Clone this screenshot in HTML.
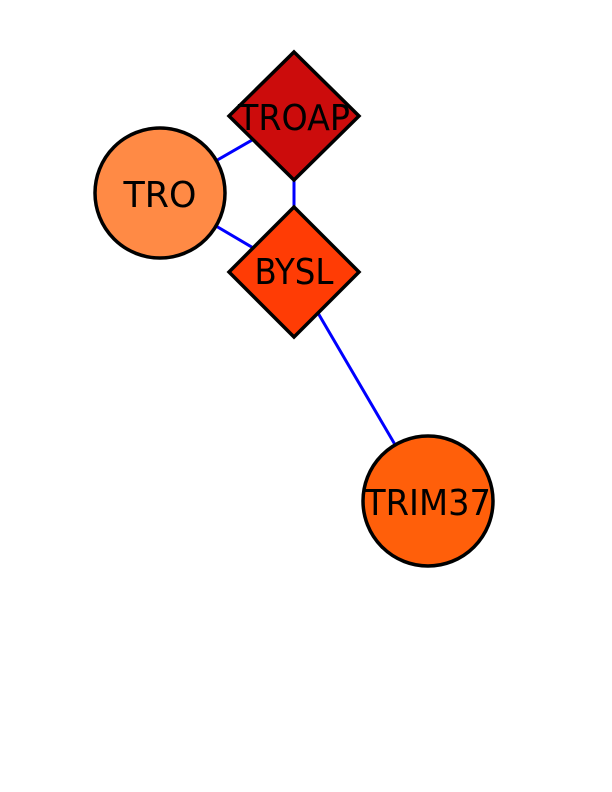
<!DOCTYPE html>
<html><head><style>html,body{margin:0;padding:0;background:#fff;}svg{display:block}</style></head>
<body>
<svg width="612" height="792" viewBox="0 0 612 792" xmlns="http://www.w3.org/2000/svg">
<g stroke="#0000ff" stroke-width="3">
<line x1="160" y1="193" x2="294" y2="116"/>
<line x1="160" y1="193" x2="294" y2="272"/>
<line x1="294" y1="116" x2="294" y2="272"/>
<line x1="294" y1="272" x2="428" y2="501"/>
</g>
<g stroke="#000" stroke-width="3.5">
<polygon points="294,52 359,116 294,180 229,116" fill="#cc0c0c"/>
<circle cx="160" cy="193" r="65" fill="#ff8a45"/>
<polygon points="294,207 359,272 294,337 229,272" fill="#ff3c05"/>
<circle cx="428" cy="501" r="65" fill="#ff5f0a"/>
</g>
<g font-family="'DejaVu Sans','Liberation Sans',sans-serif" font-size="36" text-anchor="middle" fill="#000" lengthAdjust="spacingAndGlyphs">
<text x="294" y="130" textLength="112" lengthAdjust="spacingAndGlyphs">TROAP</text>
<text x="160" y="207" textLength="73" lengthAdjust="spacingAndGlyphs">TRO</text>
<text x="294" y="284" textLength="79" lengthAdjust="spacingAndGlyphs">BYSL</text>
<text x="428" y="515" textLength="126" lengthAdjust="spacingAndGlyphs">TRIM37</text>
</g>
</svg>
</body></html>
